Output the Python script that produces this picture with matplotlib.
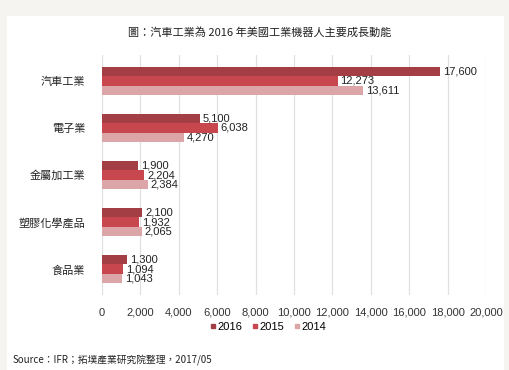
import numpy as np
import matplotlib.pyplot as plt
from matplotlib.lines import Line2D

plt.rcParams['font.family'] = ['Noto Sans CJK TC', 'DejaVu Sans']

categories = ['汽車工業', '電子業', '金屬加工業', '塑膠化學產品', '食品業']
years = ['2016', '2015', '2014']
v2016 = [17600, 5100, 1900, 2100, 1300]
v2015 = [12273, 6038, 2204, 1932, 1094]
v2014 = [13611, 4270, 2384, 2065, 1043]
xticks = [0, 2000, 4000, 6000, 8000, 10000, 12000, 14000, 16000, 18000, 20000]

colors = ['#a33e44', '#c8464d', '#dca5a8']
series = [v2016, v2015, v2014]

fig = plt.figure(figsize=(5.09, 3.70), dpi=100)
fig.patch.set_facecolor('#f5f4f0')

# white panel behind the chart
bg = fig.add_axes([7 / 509, 0, 497 / 509, 1 - 16 / 370], zorder=-1)
bg.set_facecolor('white')
bg.set_xticks([])
bg.set_yticks([])
for s in bg.spines.values():
    s.set_visible(False)

ax = fig.add_axes([102 / 509, 1 - 295 / 370, 384 / 509, 240 / 370])
ax.set_facecolor('none')

y = np.arange(len(categories))
h = 0.2
for i, (vals, c) in enumerate(zip(series, colors)):
    pos = y + (i - 1) * h
    ax.barh(pos, vals, height=h, color=c, zorder=2)
    for p, v in zip(pos, vals):
        ax.text(v + 150, p, f'{v:,}', va='center', ha='left',
                fontsize=8, color='#222222', family='Liberation Sans', zorder=3)

ax.set_xlim(0, 20000)
ax.set_ylim(4.55, -0.55)
ax.set_xticks(xticks)
ax.set_xticklabels([f'{t:,}' for t in xticks], fontsize=8, color='#333333',
                   family='Liberation Sans')
ax.set_yticks(y)
ax.set_yticklabels(categories, fontsize=8, color='#222222')
ax.tick_params(length=0, axis='x', pad=9)
ax.tick_params(length=0, axis='y', pad=12)
ax.grid(axis='x', color='#e0e0e0', linewidth=0.9, zorder=0)
for s in ax.spines.values():
    s.set_visible(False)

handles = [Line2D([], [], marker='s', linestyle='none', markersize=3.5,
                  color=c) for c in colors]
fig.legend(handles, years, loc='center', bbox_to_anchor=(268 / 509, 1 - 327 / 370),
           ncol=3, frameon=False, handlelength=0.6, handletextpad=0.15,
           columnspacing=0.8, prop={'family': 'Liberation Sans', 'size': 8})

fig.text(260 / 509, 1 - 32 / 370, '圖：汽車工業為 2016 年美國工業機器人主要成長動能',
         ha='center', va='center', fontsize=8, color='#222222')
fig.text(13 / 509, 1 - 360 / 370, 'Source：IFR；拓墣產業研究院整理，2017/05',
         ha='left', va='center', fontsize=7, color='#222222')

fig.savefig('out.png', dpi=100, facecolor=fig.get_facecolor())
